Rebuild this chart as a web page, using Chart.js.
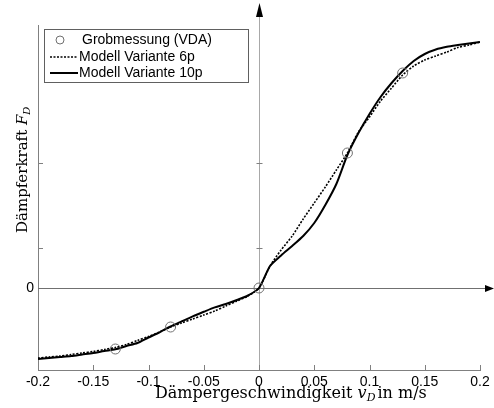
<!DOCTYPE html>
<html>
<head>
<meta charset="utf-8">
<script src="https://cdn.jsdelivr.net/npm/chart.js@4"></script>
<style>
  html, body { margin: 0; padding: 0; background: #fff; }
  #wrap { width: 494px; height: 408px; }
</style>
</head>
<body>
<div id="wrap"><canvas id="forceChart" width="494" height="408"></canvas></div>
<script>
// velocity grid (m/s)
const speeds = [-0.2, -0.19, -0.18, -0.17, -0.16, -0.15, -0.14, -0.13, -0.12, -0.11,
    -0.1, -0.09, -0.08, -0.07, -0.06, -0.05, -0.04, -0.03, -0.02, -0.01,
    0, 0.01, 0.02, 0.03, 0.04, 0.05, 0.06, 0.07, 0.08, 0.09,
    0.1, 0.11, 0.12, 0.13, 0.14, 0.15, 0.16, 0.17, 0.18, 0.19, 0.2];

// Modell Variante 6p
const force6p = [-700, -690, -680, -665, -650, -635, -615, -595, -565, -525,
    -485, -440, -390, -350, -310, -270, -230, -180, -130, -80,
    0, 220, 380, 520, 690, 850, 1010, 1180, 1350, 1560,
    1710, 1870, 2000, 2130, 2220, 2280, 2320, 2360, 2405, 2430, 2460];

// Modell Variante 10p
const force10p = [-710, -700, -690, -680, -665, -650, -630, -613, -580, -550,
    -495, -443, -385, -334, -284, -238, -194, -160, -120, -75,
    0, 220, 325, 420, 520, 650, 830, 1040, 1330, 1550,
    1740, 1910, 2050, 2170, 2270, 2340, 2385, 2412, 2430, 2446, 2460];

// Grobmessung (VDA)
const measSpeed = [-0.13, -0.08, 0, 0.08, 0.13];
const measForce = [-610, -390, 0, 1350, 2150];

const xTicks = [-0.2, -0.15, -0.1, -0.05, 0, 0.05, 0.1, 0.15, 0.2];
const yTicks = [0, 400, 1250];

function toPoints(xs, ys) {
    return xs.map(function (v, i) { return { x: v, y: ys[i] }; });
}

const AXIS_GRAY = '#808080';

const decor = {
    id: 'decor',
    beforeDatasetsDraw(chart) {
        const ctx = chart.ctx;
        const a = chart.chartArea;
        const x = chart.scales.x, y = chart.scales.y;
        const x0 = Math.round(x.getPixelForValue(0)) + 0.5;
        const y0 = Math.round(y.getPixelForValue(0)) + 0.5;
        ctx.save();
        ctx.lineWidth = 1;
        // vertical zero line
        ctx.strokeStyle = '#a8a8a8';
        ctx.beginPath(); ctx.moveTo(x0, 14); ctx.lineTo(x0, a.bottom); ctx.stroke();
        // horizontal zero line
        ctx.strokeStyle = '#707070';
        ctx.beginPath(); ctx.moveTo(a.left, y0); ctx.lineTo(488, y0); ctx.stroke();

        // inward tick marks
        ctx.strokeStyle = AXIS_GRAY;
        ctx.beginPath();
        xTicks.forEach(function (v) {
            const px = Math.round(x.getPixelForValue(v)) + 0.5;
            ctx.moveTo(px, a.bottom); ctx.lineTo(px, a.bottom - 5);
        });
        yTicks.forEach(function (v) {
            if (v === 0) return;
            const py = Math.round(y.getPixelForValue(v)) + 0.5;
            ctx.moveTo(a.left, py); ctx.lineTo(a.left + 5, py);
            ctx.moveTo(x0 - 3, py); ctx.lineTo(x0 + 3, py);
        });
        ctx.stroke();
        ctx.restore();
    },
    afterDraw(chart) {
        const ctx = chart.ctx;
        const x = chart.scales.x, y = chart.scales.y;
        const x0 = Math.round(x.getPixelForValue(0)) + 0.5;
        const y0 = Math.round(y.getPixelForValue(0)) + 0.5;
        ctx.save();

        // arrow heads
        ctx.fillStyle = '#000';
        ctx.beginPath();
        ctx.moveTo(x0, 3); ctx.lineTo(x0 - 3.5, 17); ctx.lineTo(x0 + 3.5, 17); ctx.closePath();
        ctx.fill();
        ctx.beginPath();
        ctx.moveTo(494, y0); ctx.lineTo(485, y0 - 3.5); ctx.lineTo(485, y0 + 3.5); ctx.closePath();
        ctx.fill();

        // legend box
        const ds = chart.data.datasets;
        ctx.fillStyle = '#fff';
        ctx.fillRect(44, 29, 204, 53);
        ctx.strokeStyle = '#606060';
        ctx.lineWidth = 1;
        ctx.strokeRect(44.5, 29.5, 204, 53);

        ctx.font = '14px "Liberation Sans", Arial, sans-serif';
        ctx.textBaseline = 'middle';
        ctx.textAlign = 'left';
        ctx.fillStyle = '#000';

        // row 1: circle marker
        ctx.strokeStyle = '#707070';
        ctx.beginPath(); ctx.arc(60, 40, 4, 0, Math.PI * 2); ctx.stroke();
        ctx.fillText(ds[0].label, 82, 40);

        // row 2: dotted line
        ctx.strokeStyle = '#000';
        ctx.lineWidth = 1.6;
        ctx.setLineDash(ds[1].borderDash);
        ctx.beginPath(); ctx.moveTo(50, 57); ctx.lineTo(78, 57); ctx.stroke();
        ctx.setLineDash([]);
        ctx.fillText(ds[1].label, 79, 57);

        // row 3: solid line
        ctx.lineWidth = 2;
        ctx.beginPath(); ctx.moveTo(50, 73); ctx.lineTo(78, 73); ctx.stroke();
        ctx.fillText(ds[2].label, 79, 73);

        // axis titles (serif, italic symbol with subscript)
        const serif = 'DejaVu Serif, "Liberation Serif", serif';
        function drawTitle(parts, sx, sy) {
            let cx = sx;
            parts.forEach(function (p) {
                ctx.font = p.font;
                ctx.fillText(p.t, cx, sy + (p.dy || 0));
                cx += ctx.measureText(p.t).width + (p.gap || 0);
            });
        }
        ctx.textBaseline = 'alphabetic';
        ctx.fillStyle = '#000';
        drawTitle([
            { t: 'Dämpergeschwindigkeit ', font: '16px ' + serif },
            { t: 'v', font: 'italic 16px ' + serif },
            { t: 'D', font: 'italic 11px ' + serif, dy: 3, gap: 2 },
            { t: 'in m/s', font: '16px ' + serif }
        ], 155, 398);

        ctx.save();
        ctx.translate(27, 233);
        ctx.rotate(-Math.PI / 2);
        drawTitle([
            { t: 'Dämpferkraft ', font: '15px ' + serif },
            { t: 'F', font: 'italic 15px ' + serif },
            { t: 'D', font: 'italic 10px ' + serif, dy: 3 }
        ], 0, 0);
        ctx.restore();

        ctx.restore();
    }
};

const ctx = document.getElementById('forceChart').getContext('2d');
const forceChart = new Chart(ctx, {
    type: 'line',
    data: {
        datasets: [{
            label: 'Grobmessung (VDA)',
            data: toPoints(measSpeed, measForce),
            showLine: false,
            pointStyle: 'circle',
            pointRadius: 5,
            pointBorderWidth: 1,
            pointBorderColor: '#707070',
            pointBackgroundColor: 'rgba(0,0,0,0)',
            order: 0
        }, {
            label: 'Modell Variante 6p',
            data: toPoints(speeds, force6p),
            borderColor: '#000',
            borderWidth: 1.6,
            borderDash: [2, 1.5],
            pointRadius: 0,
            tension: 0.25,
            order: 1
        }, {
            label: 'Modell Variante 10p',
            data: toPoints(speeds, force10p),
            borderColor: '#000',
            borderWidth: 2,
            pointRadius: 0,
            tension: 0.25,
            order: 2
        }]
    },
    options: {
        responsive: false,
        animation: false,
        events: [],
        layout: { padding: { top: 25, right: 14, left: 0, bottom: 0 } },
        plugins: {
            legend: { display: false },
            tooltip: { enabled: false }
        },
        scales: {
            x: {
                type: 'linear',
                min: -0.2,
                max: 0.2,
                afterFit: function (s) { s.height = 38; },
                afterBuildTicks: function (s) { s.ticks = xTicks.map(function (v) { return { value: v }; }); },
                grid: { display: false, drawTicks: false },
                border: { display: true, color: AXIS_GRAY, width: 1 },
                ticks: {
                    padding: 4,
                    maxRotation: 0,
                    autoSkip: false,
                    color: '#000',
                    font: { family: '"Liberation Sans", Arial, sans-serif', size: 14 },
                    callback: function (v) { return String(Math.round(v * 100) / 100); }
                }
            },
            y: {
                type: 'linear',
                min: -820,
                max: 2630,
                afterFit: function (s) { s.width = 38; },
                afterBuildTicks: function (s) { s.ticks = yTicks.map(function (v) { return { value: v }; }); },
                grid: { display: false, drawTicks: false },
                border: { display: true, color: AXIS_GRAY, width: 1 },
                ticks: {
                    padding: 4,
                    color: '#000',
                    font: { family: '"Liberation Sans", Arial, sans-serif', size: 14 },
                    callback: function (v) { return v === 0 ? '0' : ''; }
                }
            }
        }
    },
    plugins: [decor]
});
</script>
</body>
</html>
